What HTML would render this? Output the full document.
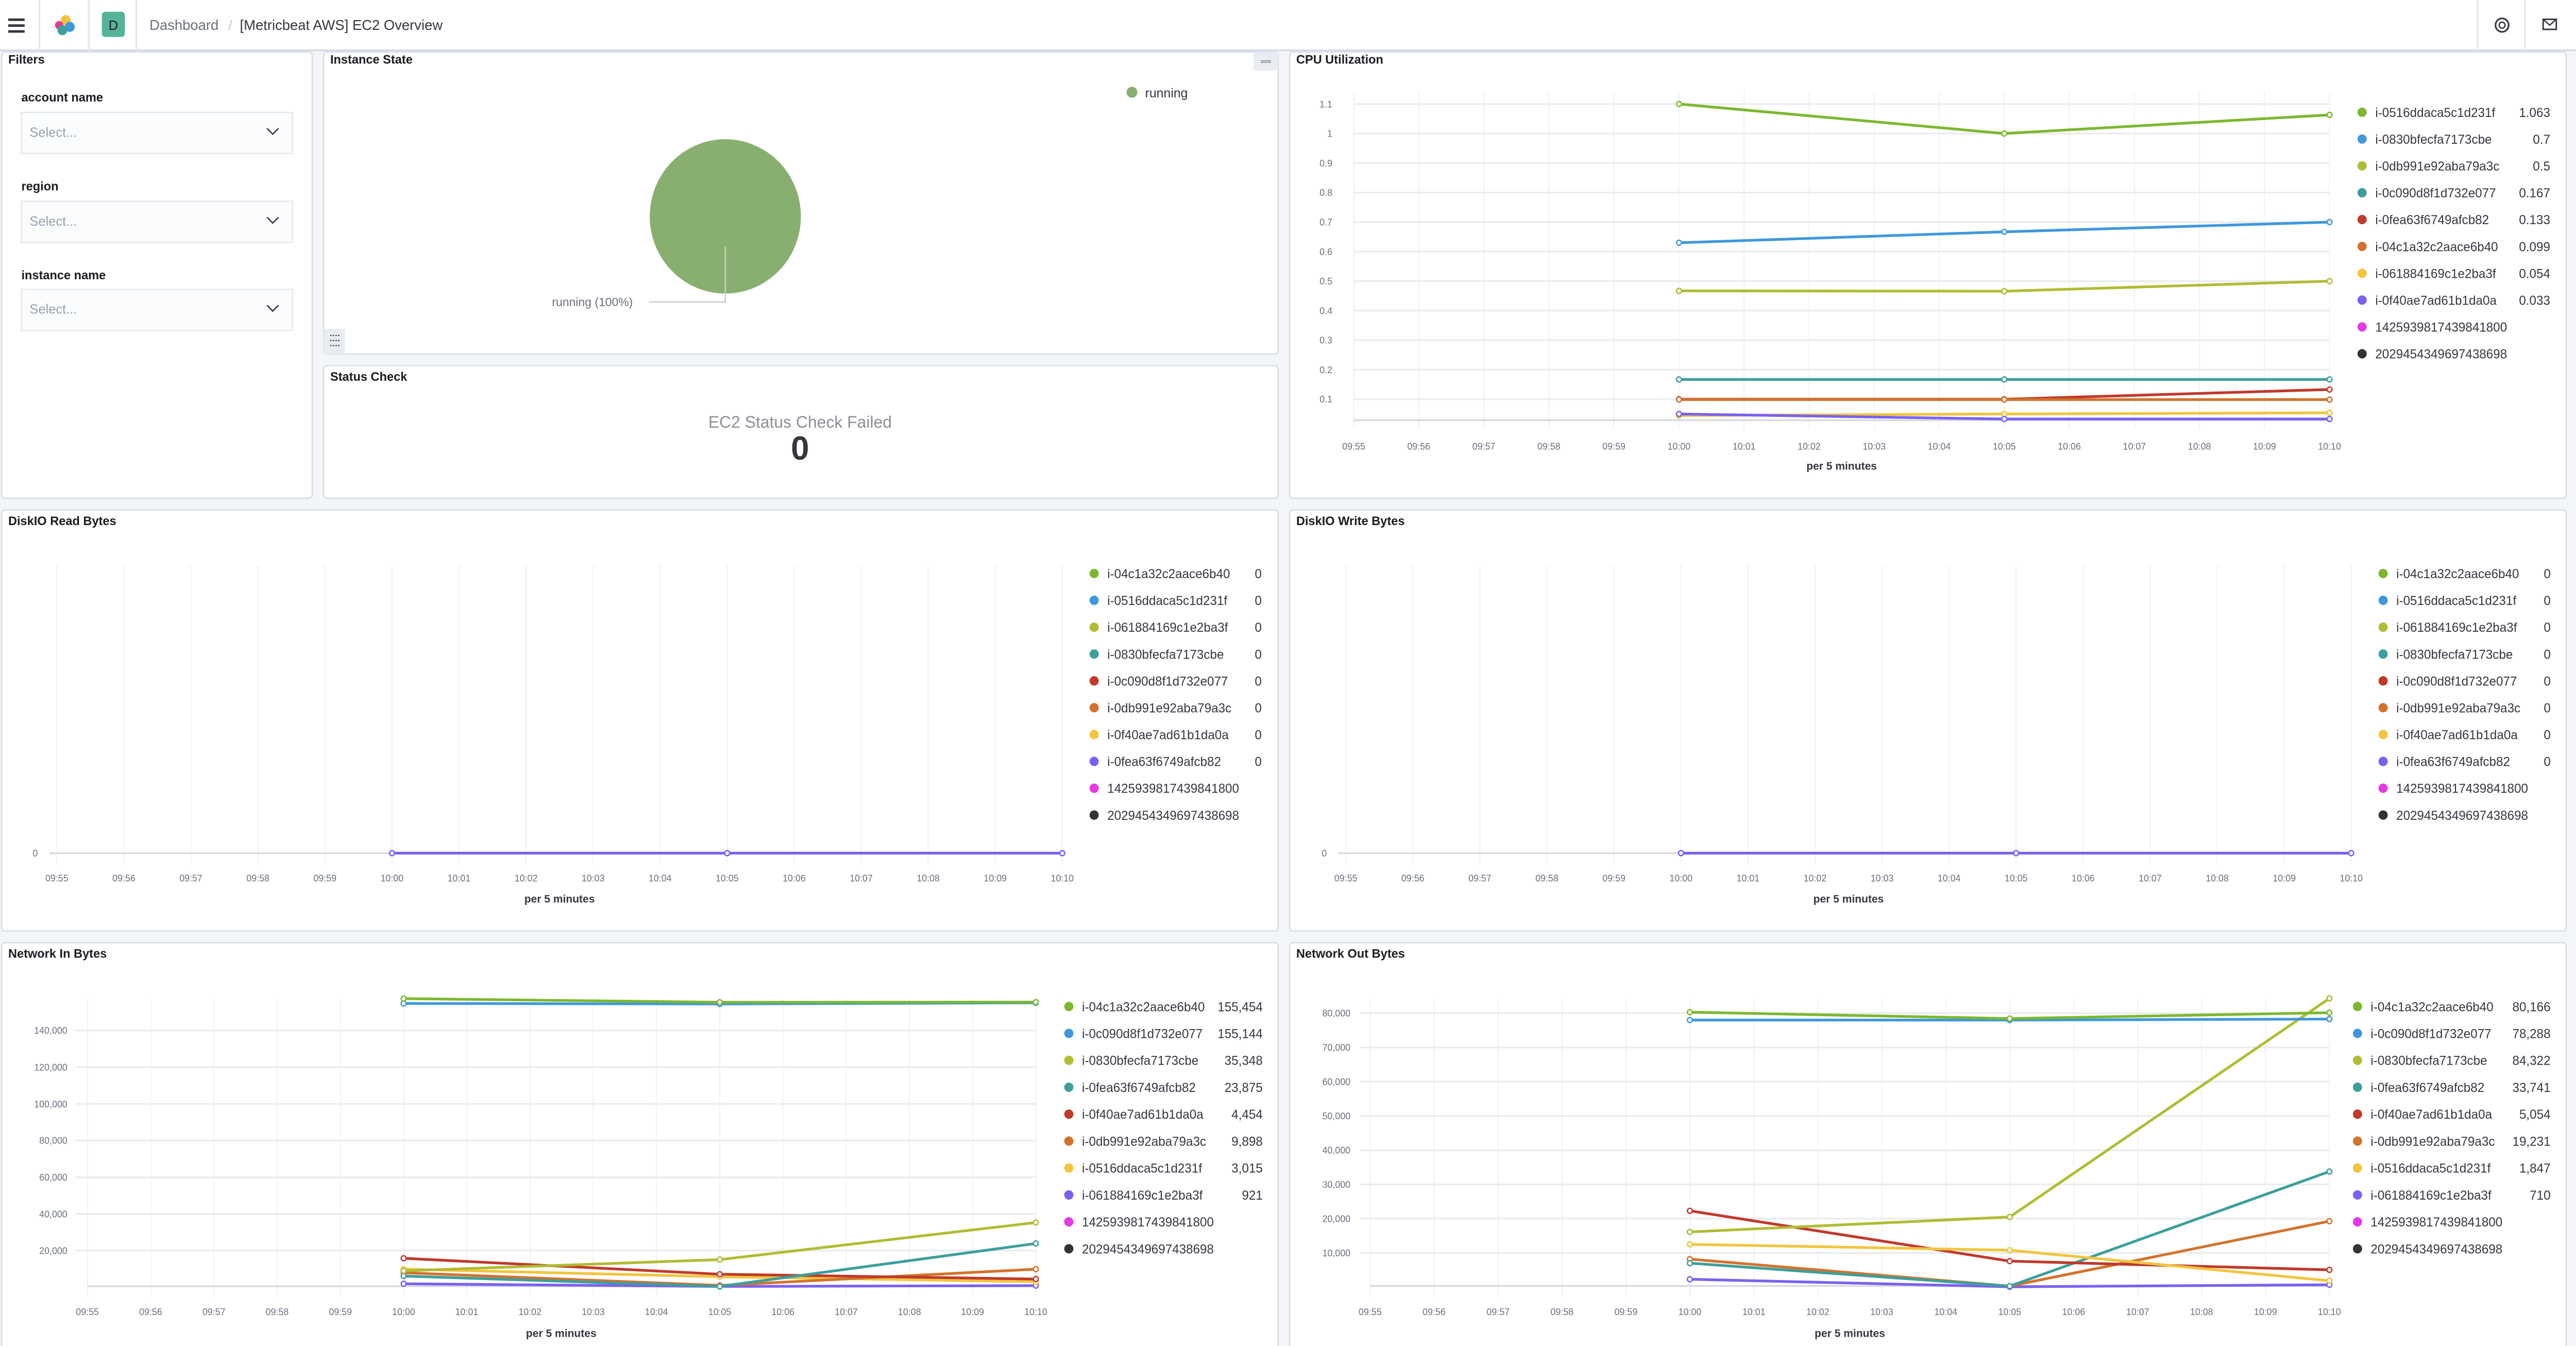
<!DOCTYPE html>
<html><head><meta charset="utf-8"><style>
html,body{margin:0;padding:0;background:#f3f5f9;width:100%;height:100%;overflow:hidden}
svg{display:block;width:100vw;height:100vh}
text{font-family:"Liberation Sans",sans-serif}
.t{font-size:7.4px;font-weight:bold;fill:#1a1c21}
.tk{font-size:5.6px;fill:#69707d}
.lg{font-size:7.6px;fill:#343741}
.ax{font-size:6.6px;font-weight:bold;fill:#343741}
.g{stroke:#eef0f3;stroke-width:0.6;fill:none}
.gh{stroke:#e9ebef;stroke-width:1;fill:none}
.a{stroke:#d6d9de;stroke-width:1;fill:none}
.p{fill:#fff;stroke:#d3dae6;stroke-width:0.7}
.s{fill:none;stroke-width:1.6;stroke-linejoin:round}
</style></head><body>
<svg viewBox="0 0 1568 802.4" preserveAspectRatio="none" xmlns="http://www.w3.org/2000/svg">
<defs>
<marker id="m1" viewBox="0 0 4 4" refX="2" refY="2" markerWidth="4" markerHeight="4" markerUnits="userSpaceOnUse"><circle cx="2" cy="2" r="1.5" fill="#fff" stroke="#7CB82F" stroke-width="0.8"/></marker>
<marker id="m2" viewBox="0 0 4 4" refX="2" refY="2" markerWidth="4" markerHeight="4" markerUnits="userSpaceOnUse"><circle cx="2" cy="2" r="1.5" fill="#fff" stroke="#3F98DC" stroke-width="0.8"/></marker>
<marker id="m3" viewBox="0 0 4 4" refX="2" refY="2" markerWidth="4" markerHeight="4" markerUnits="userSpaceOnUse"><circle cx="2" cy="2" r="1.5" fill="#fff" stroke="#B0BC33" stroke-width="0.8"/></marker>
<marker id="m4" viewBox="0 0 4 4" refX="2" refY="2" markerWidth="4" markerHeight="4" markerUnits="userSpaceOnUse"><circle cx="2" cy="2" r="1.5" fill="#fff" stroke="#3D9F9C" stroke-width="0.8"/></marker>
<marker id="m5" viewBox="0 0 4 4" refX="2" refY="2" markerWidth="4" markerHeight="4" markerUnits="userSpaceOnUse"><circle cx="2" cy="2" r="1.5" fill="#fff" stroke="#C0392B" stroke-width="0.8"/></marker>
<marker id="m6" viewBox="0 0 4 4" refX="2" refY="2" markerWidth="4" markerHeight="4" markerUnits="userSpaceOnUse"><circle cx="2" cy="2" r="1.5" fill="#fff" stroke="#D3722C" stroke-width="0.8"/></marker>
<marker id="m7" viewBox="0 0 4 4" refX="2" refY="2" markerWidth="4" markerHeight="4" markerUnits="userSpaceOnUse"><circle cx="2" cy="2" r="1.5" fill="#fff" stroke="#F2C53D" stroke-width="0.8"/></marker>
<marker id="m8" viewBox="0 0 4 4" refX="2" refY="2" markerWidth="4" markerHeight="4" markerUnits="userSpaceOnUse"><circle cx="2" cy="2" r="1.5" fill="#fff" stroke="#7B61F0" stroke-width="0.8"/></marker>
</defs>

<rect x="0" y="0" width="1568" height="30" fill="#fff"/>
<line x1="0" y1="30" x2="1568" y2="30" stroke="#d3dae6" stroke-width="1"/>
<rect x="5" y="11" width="10" height="1.5" fill="#343741"/><rect x="5" y="14.5" width="10" height="1.5" fill="#343741"/><rect x="5" y="18" width="10" height="1.5" fill="#343741"/>
<line x1="24" y1="0" x2="24" y2="30" stroke="#e4e7ec"/>
<line x1="54" y1="0" x2="54" y2="30" stroke="#e4e7ec"/>
<line x1="83" y1="0" x2="83" y2="30" stroke="#e4e7ec"/>
<circle cx="40" cy="12" r="3" fill="#F0C33C"/><circle cx="36" cy="15" r="2.5" fill="#E83C8B"/><circle cx="42.5" cy="16" r="3" fill="#3F98DC"/><circle cx="38" cy="18" r="3" fill="#3D9F9C"/>
<rect x="62" y="7" width="14" height="15" rx="2" fill="#54B399"/>
<text x="69" y="17.8" font-size="8" text-anchor="middle" fill="#1a1c21">D</text>
<text x="91" y="17.8" font-size="8.6" fill="#69707d">Dashboard</text>
<text x="139" y="17.8" font-size="8.6" fill="#c6cad1">/</text>
<text x="146" y="17.8" font-size="8.6" fill="#343741">[Metricbeat AWS] EC2 Overview</text>
<line x1="1508" y1="0" x2="1508" y2="30" stroke="#e4e7ec"/>
<line x1="1537" y1="0" x2="1537" y2="30" stroke="#e4e7ec"/>
<circle cx="1523" cy="15" r="4" fill="none" stroke="#343741" stroke-width="1"/><circle cx="1523" cy="15" r="1.8" fill="none" stroke="#343741" stroke-width="0.8"/>
<rect x="1548" y="11.5" width="8" height="6" fill="none" stroke="#343741" stroke-width="0.9"/><path d="M1548 11.5 L1552 15 L1556 11.5" fill="none" stroke="#343741" stroke-width="0.8"/>

<rect class="p" x="1" y="31" width="189" height="266" rx="2"/>
<rect class="p" x="197" y="31" width="581" height="180" rx="2"/>
<rect class="p" x="197" y="218" width="581" height="79" rx="2"/>
<rect class="p" x="785" y="31" width="777" height="266" rx="2"/>
<rect class="p" x="1" y="304" width="777" height="251" rx="2"/>
<rect class="p" x="785" y="304" width="777" height="251" rx="2"/>
<rect class="p" x="1" y="562" width="777" height="242" rx="2"/>
<rect class="p" x="785" y="562" width="777" height="242" rx="2"/>

<text class="t" x="5" y="38">Filters</text>
<text x="13" y="60.5" font-size="7.4" font-weight="bold" fill="#1a1c21">account name</text>
<rect x="13" y="67" width="165" height="24.5" fill="#fbfcfd" stroke="#e3e6ec" stroke-width="0.7"/>
<text x="18" y="81.5" font-size="8" fill="#98a2b3">Select...</text>
<path d="M162.5 76.5 L166 80 L169.5 76.5" fill="none" stroke="#343741" stroke-width="0.8"/>
<text x="13" y="113.5" font-size="7.4" font-weight="bold" fill="#1a1c21">region</text>
<rect x="13" y="120" width="165" height="24.5" fill="#fbfcfd" stroke="#e3e6ec" stroke-width="0.7"/>
<text x="18" y="134.5" font-size="8" fill="#98a2b3">Select...</text>
<path d="M162.5 129.5 L166 133 L169.5 129.5" fill="none" stroke="#343741" stroke-width="0.8"/>
<text x="13" y="166.5" font-size="7.4" font-weight="bold" fill="#1a1c21">instance name</text>
<rect x="13" y="172.5" width="165" height="24.5" fill="#fbfcfd" stroke="#e3e6ec" stroke-width="0.7"/>
<text x="18" y="187" font-size="8" fill="#98a2b3">Select...</text>
<path d="M162.5 182 L166 185.5 L169.5 182" fill="none" stroke="#343741" stroke-width="0.8"/>

<text class="t" x="201" y="38">Instance State</text>
<rect x="763" y="31" width="15" height="11" rx="1.5" fill="#e9ecf1"/>
<text x="770.5" y="38.5" font-size="6" text-anchor="middle" fill="#343741">▫▫▫</text>
<circle cx="689" cy="55" r="3.3" fill="#88AF6F"/>
<text x="697" y="58" font-size="7.8" fill="#343741">running</text>
<circle cx="441.5" cy="129" r="46" fill="#88AF6F"/>
<polyline points="441.5,147 441.5,180 395,180" fill="none" stroke="#c9cdd3" stroke-width="0.8"/>
<text x="336" y="182.5" font-size="7.2" fill="#69707d">running (100%)</text>
<rect x="197" y="196" width="13" height="15" fill="#e9ecf1"/>
<path d="M201 200h6M201 203h6M201 206h6" stroke="#343741" stroke-width="0.7" stroke-dasharray="0.8 0.8"/>

<text class="t" x="201" y="227">Status Check</text>
<text x="487" y="255" font-size="10" text-anchor="middle" fill="#8a8f98">EC2 Status Check Failed</text>
<text x="487" y="274" font-size="20" font-weight="bold" text-anchor="middle" fill="#343741">0</text>

<text class="t" x="789" y="38">CPU Utilization</text>
<path class="g" d="M824 55V256M863.6 55V256M903.2 55V256M942.8 55V256M982.4 55V256M1022 55V256M1061.6 55V256M1101.2 55V256M1140.8 55V256M1180.4 55V256M1220 55V256M1259.6 55V256M1299.2 55V256M1338.8 55V256M1378.4 55V256M1418 55V256"/>
<path class="gh" d="M824 62H1418M824 79.6H1418M824 97.2H1418M824 114.8H1418M824 132.4H1418M824 150H1418M824 167.6H1418M824 185.2H1418M824 202.8H1418M824 220.4H1418M824 238H1418"/>
<line class="a" x1="824" y1="250.5" x2="1418" y2="250.5"/>
<g class="tk" text-anchor="end">
<text x="811" y="64">1.1</text><text x="811" y="81.6">1</text><text x="811" y="99.2">0.9</text><text x="811" y="116.8">0.8</text><text x="811" y="134.4">0.7</text><text x="811" y="152">0.6</text><text x="811" y="169.6">0.5</text><text x="811" y="187.2">0.4</text><text x="811" y="204.8">0.3</text><text x="811" y="222.4">0.2</text><text x="811" y="240">0.1</text>
</g>
<g class="tk" text-anchor="middle">
<text x="824" y="268">09:55</text><text x="863.6" y="268">09:56</text><text x="903.2" y="268">09:57</text><text x="942.8" y="268">09:58</text><text x="982.4" y="268">09:59</text><text x="1022" y="268">10:00</text><text x="1061.6" y="268">10:01</text><text x="1101.2" y="268">10:02</text><text x="1140.8" y="268">10:03</text><text x="1180.4" y="268">10:04</text><text x="1220" y="268">10:05</text><text x="1259.6" y="268">10:06</text><text x="1299.2" y="268">10:07</text><text x="1338.8" y="268">10:08</text><text x="1378.4" y="268">10:09</text><text x="1418" y="268">10:10</text>
</g>
<text class="ax" x="1121" y="280" text-anchor="middle">per 5 minutes</text>
<polyline class="s" stroke="#F2C53D" marker-start="url(#m7)" marker-mid="url(#m7)" marker-end="url(#m7)" points="1022,247.7 1220,246.8 1418,246.1"/>
<polyline class="s" stroke="#7B61F0" marker-start="url(#m8)" marker-mid="url(#m8)" marker-end="url(#m8)" points="1022,246.8 1220,249.8 1418,249.8"/>
<polyline class="s" stroke="#C0392B" marker-start="url(#m5)" marker-mid="url(#m5)" marker-end="url(#m5)" points="1022,238 1220,238 1418,232.2"/>
<polyline class="s" stroke="#D3722C" marker-start="url(#m6)" marker-mid="url(#m6)" marker-end="url(#m6)" points="1022,238.2 1220,238.2 1418,238.2"/>
<polyline class="s" stroke="#3D9F9C" marker-start="url(#m4)" marker-mid="url(#m4)" marker-end="url(#m4)" points="1022,226.2 1220,226.2 1418,226.2"/>
<polyline class="s" stroke="#B0BC33" marker-start="url(#m3)" marker-mid="url(#m3)" marker-end="url(#m3)" points="1022,173.4 1220,173.6 1418,167.6"/>
<polyline class="s" stroke="#3F98DC" marker-start="url(#m2)" marker-mid="url(#m2)" marker-end="url(#m2)" points="1022,144.7 1220,138.2 1418,132.4"/>
<polyline class="s" stroke="#7CB82F" marker-start="url(#m1)" marker-mid="url(#m1)" marker-end="url(#m1)" points="1022,62 1220,79.6 1418,68.5"/>
<g transform="translate(1437.8,66.9)">
<g class="lg">
<circle cx="0" cy="0" r="2.8" fill="#7CB82F"/><text x="8" y="2.8">i-0516ddaca5c1d231f</text><text x="114.5" y="2.8" text-anchor="end">1.063</text>
<circle cx="0" cy="16" r="2.8" fill="#3F98DC"/><text x="8" y="18.8">i-0830bfecfa7173cbe</text><text x="114.5" y="18.8" text-anchor="end">0.7</text>
<circle cx="0" cy="32" r="2.8" fill="#B0BC33"/><text x="8" y="34.8">i-0db991e92aba79a3c</text><text x="114.5" y="34.8" text-anchor="end">0.5</text>
<circle cx="0" cy="48" r="2.8" fill="#3D9F9C"/><text x="8" y="50.8">i-0c090d8f1d732e077</text><text x="114.5" y="50.8" text-anchor="end">0.167</text>
<circle cx="0" cy="64" r="2.8" fill="#C0392B"/><text x="8" y="66.8">i-0fea63f6749afcb82</text><text x="114.5" y="66.8" text-anchor="end">0.133</text>
<circle cx="0" cy="80" r="2.8" fill="#D3722C"/><text x="8" y="82.8">i-04c1a32c2aace6b40</text><text x="114.5" y="82.8" text-anchor="end">0.099</text>
<circle cx="0" cy="96" r="2.8" fill="#F2C53D"/><text x="8" y="98.8">i-061884169c1e2ba3f</text><text x="114.5" y="98.8" text-anchor="end">0.054</text>
<circle cx="0" cy="112" r="2.8" fill="#7B61F0"/><text x="8" y="114.8">i-0f40ae7ad61b1da0a</text><text x="114.5" y="114.8" text-anchor="end">0.033</text>
<circle cx="0" cy="128" r="2.8" fill="#E639E6"/><text x="8" y="130.8">1425939817439841800</text>
<circle cx="0" cy="144" r="2.8" fill="#333"/><text x="8" y="146.8">2029454349697438698</text>
</g></g>

<text class="t" x="5" y="313">DiskIO Read Bytes</text>
<path class="g" d="M34.6 337V515M75.4 337V515M116.2 337V515M157 337V515M197.8 337V515M238.6 337V515M279.4 337V515M320.2 337V515M361 337V515M401.8 337V515M442.6 337V515M483.4 337V515M524.2 337V515M565 337V515M605.8 337V515M646.6 337V515"/>
<line class="a" x1="30" y1="508.6" x2="647" y2="508.6"/>
<text class="tk" x="23" y="510.6" text-anchor="end">0</text>
<g class="tk" text-anchor="middle">
<text x="34.6" y="525.5">09:55</text><text x="75.4" y="525.5">09:56</text><text x="116.2" y="525.5">09:57</text><text x="157" y="525.5">09:58</text><text x="197.8" y="525.5">09:59</text><text x="238.6" y="525.5">10:00</text><text x="279.4" y="525.5">10:01</text><text x="320.2" y="525.5">10:02</text><text x="361" y="525.5">10:03</text><text x="401.8" y="525.5">10:04</text><text x="442.6" y="525.5">10:05</text><text x="483.4" y="525.5">10:06</text><text x="524.2" y="525.5">10:07</text><text x="565" y="525.5">10:08</text><text x="605.8" y="525.5">10:09</text><text x="646.6" y="525.5">10:10</text>
</g>
<text class="ax" x="340.6" y="538" text-anchor="middle">per 5 minutes</text>
<polyline class="s" stroke="#7B61F0" marker-start="url(#m8)" marker-mid="url(#m8)" marker-end="url(#m8)" points="238.6,508.6 442.6,508.6 646.6,508.6"/>
<g transform="translate(666,341.9)">
<g class="lg">
<circle cx="0" cy="0" r="2.8" fill="#7CB82F"/><text x="8" y="2.8">i-04c1a32c2aace6b40</text><text x="102" y="2.8" text-anchor="end">0</text>
<circle cx="0" cy="16" r="2.8" fill="#3F98DC"/><text x="8" y="18.8">i-0516ddaca5c1d231f</text><text x="102" y="18.8" text-anchor="end">0</text>
<circle cx="0" cy="32" r="2.8" fill="#B0BC33"/><text x="8" y="34.8">i-061884169c1e2ba3f</text><text x="102" y="34.8" text-anchor="end">0</text>
<circle cx="0" cy="48" r="2.8" fill="#3D9F9C"/><text x="8" y="50.8">i-0830bfecfa7173cbe</text><text x="102" y="50.8" text-anchor="end">0</text>
<circle cx="0" cy="64" r="2.8" fill="#C0392B"/><text x="8" y="66.8">i-0c090d8f1d732e077</text><text x="102" y="66.8" text-anchor="end">0</text>
<circle cx="0" cy="80" r="2.8" fill="#D3722C"/><text x="8" y="82.8">i-0db991e92aba79a3c</text><text x="102" y="82.8" text-anchor="end">0</text>
<circle cx="0" cy="96" r="2.8" fill="#F2C53D"/><text x="8" y="98.8">i-0f40ae7ad61b1da0a</text><text x="102" y="98.8" text-anchor="end">0</text>
<circle cx="0" cy="112" r="2.8" fill="#7B61F0"/><text x="8" y="114.8">i-0fea63f6749afcb82</text><text x="102" y="114.8" text-anchor="end">0</text>
<circle cx="0" cy="128" r="2.8" fill="#E639E6"/><text x="8" y="130.8">1425939817439841800</text>
<circle cx="0" cy="144" r="2.8" fill="#333"/><text x="8" y="146.8">2029454349697438698</text>
</g></g>

<text class="t" x="789" y="313">DiskIO Write Bytes</text>
<path class="g" d="M819.2 337V515M860 337V515M900.8 337V515M941.6 337V515M982.4 337V515M1023.2 337V515M1064 337V515M1104.8 337V515M1145.6 337V515M1186.4 337V515M1227.2 337V515M1268 337V515M1308.8 337V515M1349.6 337V515M1390.4 337V515M1431.2 337V515"/>
<line class="a" x1="814.6" y1="508.6" x2="1431.6" y2="508.6"/>
<text class="tk" x="807.6" y="510.6" text-anchor="end">0</text>
<g class="tk" text-anchor="middle">
<text x="819.2" y="525.5">09:55</text><text x="860" y="525.5">09:56</text><text x="900.8" y="525.5">09:57</text><text x="941.6" y="525.5">09:58</text><text x="982.4" y="525.5">09:59</text><text x="1023.2" y="525.5">10:00</text><text x="1064" y="525.5">10:01</text><text x="1104.8" y="525.5">10:02</text><text x="1145.6" y="525.5">10:03</text><text x="1186.4" y="525.5">10:04</text><text x="1227.2" y="525.5">10:05</text><text x="1268" y="525.5">10:06</text><text x="1308.8" y="525.5">10:07</text><text x="1349.6" y="525.5">10:08</text><text x="1390.4" y="525.5">10:09</text><text x="1431.2" y="525.5">10:10</text>
</g>
<text class="ax" x="1125.2" y="538" text-anchor="middle">per 5 minutes</text>
<polyline class="s" stroke="#7B61F0" marker-start="url(#m8)" marker-mid="url(#m8)" marker-end="url(#m8)" points="1023.2,508.6 1227.2,508.6 1431.2,508.6"/>
<g transform="translate(1450.6,341.9)">
<g class="lg">
<circle cx="0" cy="0" r="2.8" fill="#7CB82F"/><text x="8" y="2.8">i-04c1a32c2aace6b40</text><text x="102" y="2.8" text-anchor="end">0</text>
<circle cx="0" cy="16" r="2.8" fill="#3F98DC"/><text x="8" y="18.8">i-0516ddaca5c1d231f</text><text x="102" y="18.8" text-anchor="end">0</text>
<circle cx="0" cy="32" r="2.8" fill="#B0BC33"/><text x="8" y="34.8">i-061884169c1e2ba3f</text><text x="102" y="34.8" text-anchor="end">0</text>
<circle cx="0" cy="48" r="2.8" fill="#3D9F9C"/><text x="8" y="50.8">i-0830bfecfa7173cbe</text><text x="102" y="50.8" text-anchor="end">0</text>
<circle cx="0" cy="64" r="2.8" fill="#C0392B"/><text x="8" y="66.8">i-0c090d8f1d732e077</text><text x="102" y="66.8" text-anchor="end">0</text>
<circle cx="0" cy="80" r="2.8" fill="#D3722C"/><text x="8" y="82.8">i-0db991e92aba79a3c</text><text x="102" y="82.8" text-anchor="end">0</text>
<circle cx="0" cy="96" r="2.8" fill="#F2C53D"/><text x="8" y="98.8">i-0f40ae7ad61b1da0a</text><text x="102" y="98.8" text-anchor="end">0</text>
<circle cx="0" cy="112" r="2.8" fill="#7B61F0"/><text x="8" y="114.8">i-0fea63f6749afcb82</text><text x="102" y="114.8" text-anchor="end">0</text>
<circle cx="0" cy="128" r="2.8" fill="#E639E6"/><text x="8" y="130.8">1425939817439841800</text>
<circle cx="0" cy="144" r="2.8" fill="#333"/><text x="8" y="146.8">2029454349697438698</text>
</g></g>

<text class="t" x="5" y="571">Network In Bytes</text>
<path class="g" d="M53.2 595V773M91.7 595V773M130.2 595V773M168.7 595V773M207.2 595V773M245.7 595V773M284.1 595V773M322.6 595V773M361.1 595V773M399.6 595V773M438.1 595V773M476.6 595V773M515.1 595V773M553.6 595V773M592 595V773M630.5 595V773"/>
<path class="gh" d="M46 614.3H630.5M46 636.2H630.5M46 658.1H630.5M46 679.9H630.5M46 701.8H630.5M46 723.7H630.5M46 745.5H630.5"/>
<line class="a" x1="53.2" y1="766.8" x2="630.5" y2="766.8"/>
<g class="tk" text-anchor="end">
<text x="41" y="616.3">140,000</text><text x="41" y="638.2">120,000</text><text x="41" y="660.1">100,000</text><text x="41" y="681.9">80,000</text><text x="41" y="703.8">60,000</text><text x="41" y="725.7">40,000</text><text x="41" y="747.5">20,000</text>
</g>
<g class="tk" text-anchor="middle">
<text x="53.2" y="784">09:55</text><text x="91.7" y="784">09:56</text><text x="130.2" y="784">09:57</text><text x="168.7" y="784">09:58</text><text x="207.2" y="784">09:59</text><text x="245.7" y="784">10:00</text><text x="284.1" y="784">10:01</text><text x="322.6" y="784">10:02</text><text x="361.1" y="784">10:03</text><text x="399.6" y="784">10:04</text><text x="438.1" y="784">10:05</text><text x="476.6" y="784">10:06</text><text x="515.1" y="784">10:07</text><text x="553.6" y="784">10:08</text><text x="592" y="784">10:09</text><text x="630.5" y="784">10:10</text>
</g>
<text class="ax" x="341.6" y="797" text-anchor="middle">per 5 minutes</text>
<polyline class="s" stroke="#7B61F0" marker-start="url(#m8)" marker-mid="url(#m8)" marker-end="url(#m8)" points="245.7,765.3 438.1,766.9 630.5,766.4"/>
<polyline class="s" stroke="#F2C53D" marker-start="url(#m7)" marker-mid="url(#m7)" marker-end="url(#m7)" points="245.7,756.6 438.1,761.1 630.5,764.1"/>
<polyline class="s" stroke="#D3722C" marker-start="url(#m6)" marker-mid="url(#m6)" marker-end="url(#m6)" points="245.7,758.7 438.1,766.3 630.5,756.6"/>
<polyline class="s" stroke="#C0392B" marker-start="url(#m5)" marker-mid="url(#m5)" marker-end="url(#m5)" points="245.7,750.1 438.1,759.6 630.5,762.5"/>
<polyline class="s" stroke="#3D9F9C" marker-start="url(#m4)" marker-mid="url(#m4)" marker-end="url(#m4)" points="245.7,760.7 438.1,766.9 630.5,741.3"/>
<polyline class="s" stroke="#B0BC33" marker-start="url(#m3)" marker-mid="url(#m3)" marker-end="url(#m3)" points="245.7,757.6 438.1,750.9 630.5,728.8"/>
<polyline class="s" stroke="#3F98DC" marker-start="url(#m2)" marker-mid="url(#m2)" marker-end="url(#m2)" points="245.7,598.2 438.1,598.5 630.5,597.8"/>
<polyline class="s" stroke="#7CB82F" marker-start="url(#m1)" marker-mid="url(#m1)" marker-end="url(#m1)" points="245.7,595.3 438.1,597.5 630.5,597.4"/>
<g transform="translate(650.6,600)">
<g class="lg">
<circle cx="0" cy="0" r="2.8" fill="#7CB82F"/><text x="8" y="2.8">i-04c1a32c2aace6b40</text><text x="118" y="2.8" text-anchor="end">155,454</text>
<circle cx="0" cy="16.05" r="2.8" fill="#3F98DC"/><text x="8" y="18.85">i-0c090d8f1d732e077</text><text x="118" y="18.85" text-anchor="end">155,144</text>
<circle cx="0" cy="32.1" r="2.8" fill="#B0BC33"/><text x="8" y="34.9">i-0830bfecfa7173cbe</text><text x="118" y="34.9" text-anchor="end">35,348</text>
<circle cx="0" cy="48.15" r="2.8" fill="#3D9F9C"/><text x="8" y="50.95">i-0fea63f6749afcb82</text><text x="118" y="50.95" text-anchor="end">23,875</text>
<circle cx="0" cy="64.2" r="2.8" fill="#C0392B"/><text x="8" y="67">i-0f40ae7ad61b1da0a</text><text x="118" y="67" text-anchor="end">4,454</text>
<circle cx="0" cy="80.25" r="2.8" fill="#D3722C"/><text x="8" y="83.05">i-0db991e92aba79a3c</text><text x="118" y="83.05" text-anchor="end">9,898</text>
<circle cx="0" cy="96.3" r="2.8" fill="#F2C53D"/><text x="8" y="99.1">i-0516ddaca5c1d231f</text><text x="118" y="99.1" text-anchor="end">3,015</text>
<circle cx="0" cy="112.35" r="2.8" fill="#7B61F0"/><text x="8" y="115.15">i-061884169c1e2ba3f</text><text x="118" y="115.15" text-anchor="end">921</text>
<circle cx="0" cy="128.4" r="2.8" fill="#E639E6"/><text x="8" y="131.2">1425939817439841800</text>
<circle cx="0" cy="144.45" r="2.8" fill="#333"/><text x="8" y="147.25">2029454349697438698</text>
</g></g>

<text class="t" x="789" y="571">Network Out Bytes</text>
<path class="g" d="M834 595V773M872.9 595V773M911.9 595V773M950.8 595V773M989.7 595V773M1028.6 595V773M1067.6 595V773M1106.5 595V773M1145.4 595V773M1184.4 595V773M1223.3 595V773M1262.2 595V773M1301.2 595V773M1340.1 595V773M1379 595V773M1417.9 595V773"/>
<path class="gh" d="M828 604H1417.9M828 624.4H1417.9M828 644.8H1417.9M828 665.3H1417.9M828 685.7H1417.9M828 706.1H1417.9M828 726.5H1417.9M828 746.9H1417.9"/>
<line class="a" x1="834" y1="766.6" x2="1417.9" y2="766.6"/>
<g class="tk" text-anchor="end">
<text x="822" y="606">80,000</text><text x="822" y="626.4">70,000</text><text x="822" y="646.8">60,000</text><text x="822" y="667.3">50,000</text><text x="822" y="687.7">40,000</text><text x="822" y="708.1">30,000</text><text x="822" y="728.5">20,000</text><text x="822" y="748.9">10,000</text>
</g>
<g class="tk" text-anchor="middle">
<text x="834" y="784">09:55</text><text x="872.9" y="784">09:56</text><text x="911.9" y="784">09:57</text><text x="950.8" y="784">09:58</text><text x="989.7" y="784">09:59</text><text x="1028.6" y="784">10:00</text><text x="1067.6" y="784">10:01</text><text x="1106.5" y="784">10:02</text><text x="1145.4" y="784">10:03</text><text x="1184.4" y="784">10:04</text><text x="1223.3" y="784">10:05</text><text x="1262.2" y="784">10:06</text><text x="1301.2" y="784">10:07</text><text x="1340.1" y="784">10:08</text><text x="1379" y="784">10:09</text><text x="1417.9" y="784">10:10</text>
</g>
<text class="ax" x="1126" y="797" text-anchor="middle">per 5 minutes</text>
<polyline class="s" stroke="#7B61F0" marker-start="url(#m8)" marker-mid="url(#m8)" marker-end="url(#m8)" points="1028.6,762.6 1223.3,767.1 1417.9,765.9"/>
<polyline class="s" stroke="#D3722C" marker-start="url(#m6)" marker-mid="url(#m6)" marker-end="url(#m6)" points="1028.6,750.6 1223.3,766.7 1417.9,728"/>
<polyline class="s" stroke="#3D9F9C" marker-start="url(#m4)" marker-mid="url(#m4)" marker-end="url(#m4)" points="1028.6,753 1223.3,766.7 1417.9,698.4"/>
<polyline class="s" stroke="#C0392B" marker-start="url(#m5)" marker-mid="url(#m5)" marker-end="url(#m5)" points="1028.6,721.8 1223.3,751.8 1417.9,757"/>
<polyline class="s" stroke="#F2C53D" marker-start="url(#m7)" marker-mid="url(#m7)" marker-end="url(#m7)" points="1028.6,741.8 1223.3,745.3 1417.9,763.5"/>
<polyline class="s" stroke="#B0BC33" marker-start="url(#m3)" marker-mid="url(#m3)" marker-end="url(#m3)" points="1028.6,734.4 1223.3,725.5 1417.9,595.2"/>
<polyline class="s" stroke="#3F98DC" marker-start="url(#m2)" marker-mid="url(#m2)" marker-end="url(#m2)" points="1028.6,608.1 1223.3,608.1 1417.9,607.5"/>
<polyline class="s" stroke="#7CB82F" marker-start="url(#m1)" marker-mid="url(#m1)" marker-end="url(#m1)" points="1028.6,603.4 1223.3,607.2 1417.9,603.7"/>
<g transform="translate(1435,600)">
<g class="lg">
<circle cx="0" cy="0" r="2.8" fill="#7CB82F"/><text x="8" y="2.8">i-04c1a32c2aace6b40</text><text x="117.5" y="2.8" text-anchor="end">80,166</text>
<circle cx="0" cy="16.05" r="2.8" fill="#3F98DC"/><text x="8" y="18.85">i-0c090d8f1d732e077</text><text x="117.5" y="18.85" text-anchor="end">78,288</text>
<circle cx="0" cy="32.1" r="2.8" fill="#B0BC33"/><text x="8" y="34.9">i-0830bfecfa7173cbe</text><text x="117.5" y="34.9" text-anchor="end">84,322</text>
<circle cx="0" cy="48.15" r="2.8" fill="#3D9F9C"/><text x="8" y="50.95">i-0fea63f6749afcb82</text><text x="117.5" y="50.95" text-anchor="end">33,741</text>
<circle cx="0" cy="64.2" r="2.8" fill="#C0392B"/><text x="8" y="67">i-0f40ae7ad61b1da0a</text><text x="117.5" y="67" text-anchor="end">5,054</text>
<circle cx="0" cy="80.25" r="2.8" fill="#D3722C"/><text x="8" y="83.05">i-0db991e92aba79a3c</text><text x="117.5" y="83.05" text-anchor="end">19,231</text>
<circle cx="0" cy="96.3" r="2.8" fill="#F2C53D"/><text x="8" y="99.1">i-0516ddaca5c1d231f</text><text x="117.5" y="99.1" text-anchor="end">1,847</text>
<circle cx="0" cy="112.35" r="2.8" fill="#7B61F0"/><text x="8" y="115.15">i-061884169c1e2ba3f</text><text x="117.5" y="115.15" text-anchor="end">710</text>
<circle cx="0" cy="128.4" r="2.8" fill="#E639E6"/><text x="8" y="131.2">1425939817439841800</text>
<circle cx="0" cy="144.45" r="2.8" fill="#333"/><text x="8" y="147.25">2029454349697438698</text>
</g></g>
</svg>
</body></html>
